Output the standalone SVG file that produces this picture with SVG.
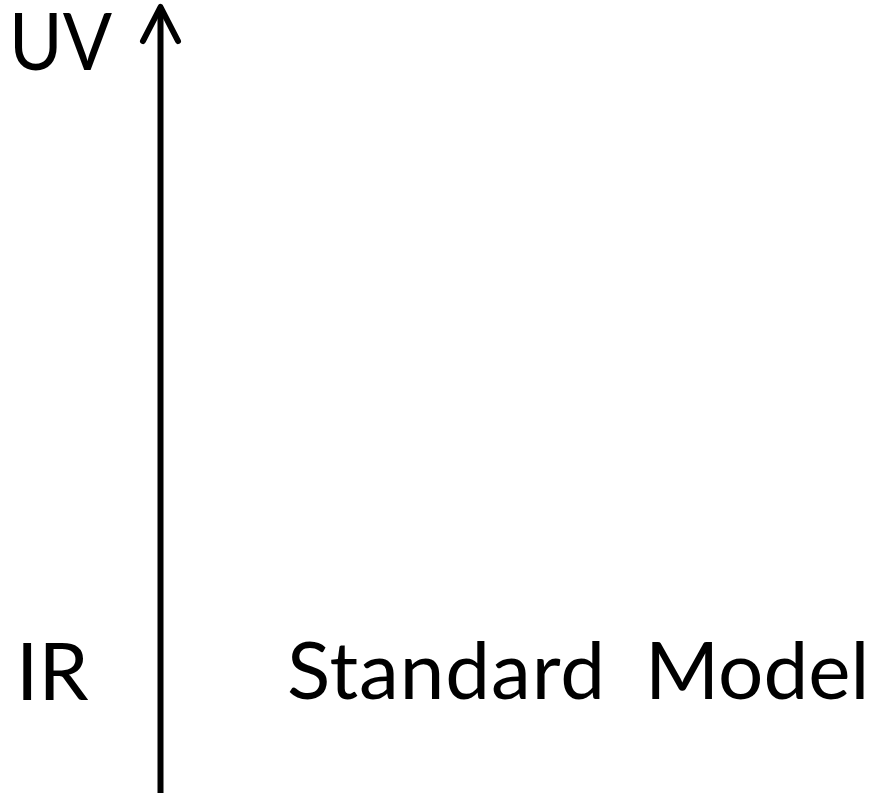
<svg xmlns="http://www.w3.org/2000/svg" width="871" height="793" viewBox="0 0 871 793">
<style>
text{font-family:"Lato","Open Sans",sans-serif;font-size:80px;fill:#000}
.ax{stroke:#000;stroke-width:6;fill:none;stroke-linecap:round;stroke-linejoin:round}
</style>
<rect width="871" height="793" fill="#fff"/>
<g id="connectors">
<path class="ax" d="M160.5 793 V7" style="stroke-linecap:butt"/>
<path class="ax" d="M143 41 L160.5 7 L178 41"/>
</g>
<g id="uv"><text x="9" y="70" textLength="103" lengthAdjust="spacingAndGlyphs">UV</text></g>
<g id="ir"><text x="16" y="700">IR</text></g>
<g id="sm"><text x="287" y="699" textLength="318" lengthAdjust="spacing">Standard</text><text x="645" y="699">Model</text></g>
</svg>
